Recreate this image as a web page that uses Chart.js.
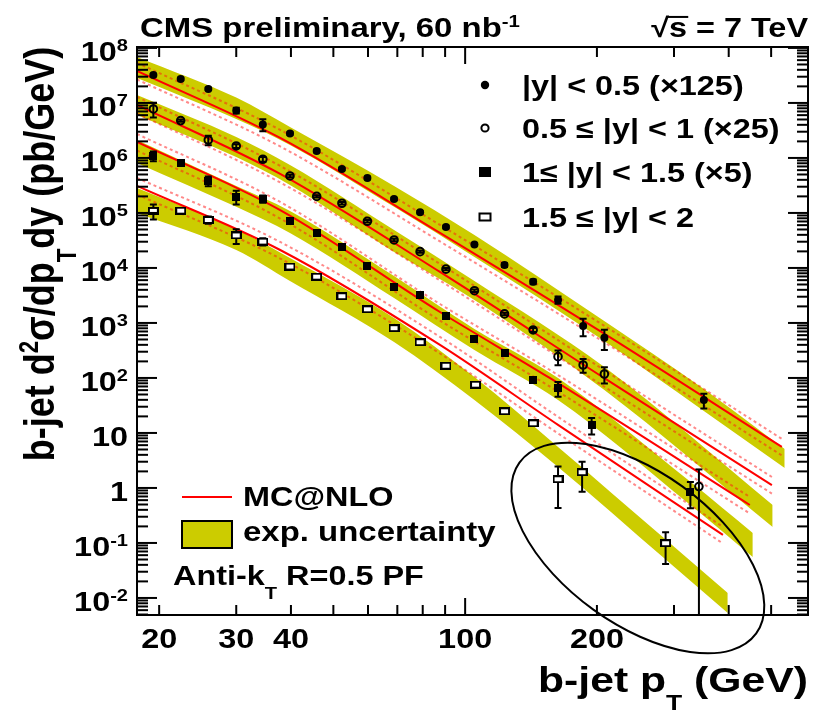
<!DOCTYPE html>
<html><head><meta charset="utf-8">
<script src="https://cdn.jsdelivr.net/npm/chart.js@4.4.1/dist/chart.umd.min.js"></script>
<style>html,body{margin:0;padding:0;background:#fff;}#wrap{width:814px;height:714px;}</style>
</head><body><div id="wrap"><canvas id="c" width="814" height="714"></canvas></div>
<script>
// ---------------- data ----------------
const ptS1  = [19.4,22.4,25.9,30.0,34.5,39.8,45.8,52.3,59.8,68.8,78.9,90.4,105,123,143,163,186,208,351];
const valS1 = [3.23e7,2.73e7,1.80e7,7.31e6,4.06e6,2.79e6,1.34e6,6.31e5,4.33e5,1.80e5,1.03e5,5.56e4,2.68e4,1.13e4,5.63e3,2.62e3,882,538,39.8];
const errS1 = [0.05,0.05,0.05,0.12,0.25,0.05,0.05,0.05,0.05,0.05,0.05,0.05,0.05,0.08,0.1,0.15,0.35,0.4,0.3];

const ptS2  = [19.4,22.4,25.9,30.0,34.5,39.8,45.8,52.3,59.8,68.8,78.9,90.4,105,123,143,163,186,208,342];
const valS2 = [7.78e6,4.77e6,2.12e6,1.65e6,9.46e5,4.71e5,2.0e5,1.50e5,7.06e4,3.23e4,1.98e4,9.51e3,3.86e3,1.46e3,746,244,172,118,1.06];
const errS2 = [0.3,0.05,0.2,0.08,0.1,0.05,0.05,0.05,0.05,0.05,0.05,0.05,0.05,0.05,0.08,0.3,0.28,0.33,1.05];

const ptS3  = [19.4,22.4,25.9,30.0,34.5,39.8,45.8,52.3,59.8,68.8,78.9,90.4,105,123,143,163,194.5,327];
const valS3 = [1.09e6,8.02e5,3.82e5,1.98e5,1.80e5,7.21e4,4.33e4,2.44e4,1.10e4,4.57e3,3.16e3,1.34e3,507,281,90.8,65,14.0,0.857];
const errS3 = [0.2,0.05,0.2,0.28,0.15,0.05,0.05,0.05,0.05,0.05,0.05,0.05,0.05,0.05,0.08,0.3,0.33,0.5];

const ptS4  = [19.4,22.4,25.9,30.0,34.5,39.8,45.8,52.3,59.8,68.8,78.9,90.4,105.6,123,143,163,185,287];
const valS4 = [1.09e5,1.10e5,7.46e4,3.90e4,3.01e4,1.06e4,6.95e3,3.06e3,1.77e3,804,446,167,75.5,24.8,15.0,1.44,1.93,0.0988];
const errS4 = [0.3,0.08,0.15,0.3,0.15,0.05,0.05,0.05,0.05,0.05,0.05,0.05,0.05,0.05,0.05,0.7,0.56,0.58];

// experimental uncertainty bands
const band1Pt = [17.8,30,39.8,68.8,105,203,351,537];
const band1Lo = [2.85e7,5.1e6,1.72e6,1.29e5,1.58e4,534,25.1,2.31];
const band1Hi = [6.86e7,1.25e7,3.66e6,3.10e5,3.98e4,1.23e3,63.1,5.12];
const band2Pt = [17.8,30,39.8,68.8,105,208,504];
const band2Lo = [6.05e6,1.04e6,3.23e5,1.95e4,2.62e3,60.5,0.195];
const band2Hi = [1.40e7,2.41e6,7.46e5,4.91e4,5.8e3,158,0.491];
const band3Pt = [17.8,30,39.8,68.8,105,163,327,454];
const band3Lo = [8.11e5,1.29e5,4.33e4,2.85e3,323,39.8,0.491,0.0556];
const band3Hi = [2.12e6,3.10e5,1.09e5,7.15e3,778,100,1.29,0.152];
const band4Pt = [17.8,30,39.8,68.8,105,163,288,398];
const band4Lo = [1.0e5,2.12e4,5.8e3,451,39.8,2.41,0.049,0.00533];
const band4Hi = [2.85e5,5.12e4,1.52e4,1.23e3,104,5.57,0.113,0.0123];

// MC@NLO central curves and relative theory uncertainty
const mcPt1 = [17.8,37.8,87.6,203,529];  const mcVal1 = [3.82e7,2.31e6,4.33e4,715,5.57];
const mcPt2 = [17.8,37.8,87.6,211,502];  const mcVal2 = [9.2e6,5.12e5,8.45e3,92,1.13];
const mcPt3 = [17.8,37.8,87.6,156,447];  const mcVal3 = [1.95e6,1.13e5,1.58e3,100,0.49];
const mcPt4 = [17.8,37.8,87.6,163,388];  const mcVal4 = [3.10e5,2.12e4,398,14,0.14];
const mcUncUp = 0.4, mcUncDown = 0.3;

const seriesLabels = ['|y| < 0.5 (×125)','0.5 ≤ |y| < 1 (×25)','1≤ |y| < 1.5 (×5)','1.5 ≤ |y| < 2'];
const xTickLabels = [20,30,40,100,200];
const yExponents = [-2,-1,0,1,2,3,4,5,6,7,8];
const xMin = 17.8, xMax = 607, yMin = 0.0049, yMax = 1.04e8;
// ellipse annotation centre (data coords)
const ellipseCenter = {x: 248, y: 0.081};

// ---------------- styling helpers ----------------
const FONT = '"Liberation Sans", Arial, Helvetica, sans-serif';
const YEL = '#cccc00';
function setFont(ctx, size, weight){ ctx.font = (weight||'bold') + ' ' + size + 'px ' + FONT; }
function partsWidth(ctx, parts, size, weight){
  let w = 0;
  for (const p of parts){ setFont(ctx, p.k ? size*0.62 : size, weight); w += ctx.measureText(p.t).width; }
  return w;
}
function drawParts(ctx, parts, x, y, o){
  const size = o.size, weight = o.weight || 'bold';
  ctx.save(); ctx.translate(x, y); if (o.rot) ctx.rotate(o.rot); ctx.scale(o.sx||1, o.sy||1);
  const w = partsWidth(ctx, parts, size, weight);
  let cx = o.align === 'right' ? -w : o.align === 'center' ? -w/2 : 0;
  ctx.textBaseline = 'alphabetic'; ctx.textAlign = 'left'; ctx.fillStyle = o.color || '#000';
  for (const p of parts){
    const fs = p.k ? size*0.62 : size; setFont(ctx, fs, weight);
    const dy = p.k === 'sup' ? -size*0.36 : p.k === 'sub' ? size*0.5 : 0;
    ctx.fillText(p.t, cx, dy);
    const pw = ctx.measureText(p.t).width;
    if (p.over){ ctx.fillRect(cx-1, -size*0.78, pw+2, 2); }
    cx += pw;
  }
  ctx.restore();
}
function rectMarker(w, h, fill, stroke, lw){
  const c = document.createElement('canvas'); c.width = w; c.height = h;
  const g = c.getContext('2d');
  if (stroke){ g.fillStyle = stroke; g.fillRect(0,0,w,h); g.fillStyle = fill; g.fillRect(lw,lw,w-2*lw,h-2*lw); }
  else { g.fillStyle = fill; g.fillRect(0,0,w,h); }
  return c;
}
const mFilledSq = rectMarker(8, 8, '#000');
const mOpenSq = rectMarker(11, 8, '#fff', '#000', 2);

const series = [
  {pt: ptS1, v: valS1, e: errS1, style: 'circle', r: 4, bg: '#000', bd: '#000', bw: 0},
  {pt: ptS2, v: valS2, e: errS2, style: 'circle', r: 3.8, bg: 'rgba(0,0,0,0)', bd: '#000', bw: 2},
  {pt: ptS3, v: valS3, e: errS3, style: mFilledSq, r: 4, bg: '#000', bd: '#000', bw: 0},
  {pt: ptS4, v: valS4, e: errS4, style: mOpenSq, r: 5, bg: '#fff', bd: '#000', bw: 0}
];
const bands = [[band1Pt,band1Lo,band1Hi],[band2Pt,band2Lo,band2Hi],[band3Pt,band3Lo,band3Hi],[band4Pt,band4Lo,band4Hi]];
const mcs = [[mcPt1,mcVal1],[mcPt2,mcVal2],[mcPt3,mcVal3],[mcPt4,mcVal4]];

const xy = (xs, ys, f) => xs.map((x,i) => ({x: x, y: ys[i]*(f||1)}));
const datasets = [];
series.forEach(s => datasets.push({
  data: xy(s.pt, s.v), showLine: false, order: 1,
  pointStyle: s.style, pointRadius: s.r, pointBackgroundColor: s.bg, pointBorderColor: s.bd, pointBorderWidth: s.bw
}));
const DASH = 'rgba(255,20,20,0.5)';
mcs.forEach(m => {
  datasets.push({data: xy(m[0], m[1], 1+mcUncUp), borderColor: DASH, borderWidth: 2, borderDash: [3,3], pointRadius: 0, cubicInterpolationMode: 'monotone', fill: false, order: 2});
  datasets.push({data: xy(m[0], m[1], 1-mcUncDown), borderColor: DASH, borderWidth: 2, borderDash: [3,3], pointRadius: 0, cubicInterpolationMode: 'monotone', fill: false, order: 2});
  datasets.push({data: xy(m[0], m[1]), borderColor: '#ff0000', borderWidth: 2, pointRadius: 0, cubicInterpolationMode: 'monotone', fill: false, order: 2});
});
bands.forEach(b => {
  const loIdx = datasets.length;
  datasets.push({data: xy(b[0], b[1]), borderWidth: 0, pointRadius: 0, cubicInterpolationMode: 'monotone', fill: false, order: 3});
  datasets.push({data: xy(b[0], b[2]), borderWidth: 0, pointRadius: 0, cubicInterpolationMode: 'monotone', fill: loIdx, backgroundColor: YEL, order: 3});
});

const decor = {
  id: 'decor',
  beforeDatasetDraw(chart, args){
    if (args.index !== series.length - 1) return;
    const ctx = chart.ctx, xs = chart.scales.x, ys = chart.scales.y, a = chart.chartArea;
    ctx.save(); ctx.strokeStyle = '#000'; ctx.lineWidth = 2;
    series.forEach(s => s.pt.forEach((x, i) => {
      const v = s.v[i], e = s.e[i]*v;
      const px = xs.getPixelForValue(x);
      const pTop = ys.getPixelForValue(v + e);
      const lowV = v - e; let pBot = lowV > yMin ? ys.getPixelForValue(lowV) : a.bottom;
      ctx.beginPath(); ctx.moveTo(px, pTop); ctx.lineTo(px, pBot); ctx.stroke();
      ctx.beginPath(); ctx.moveTo(px-3.5, pTop); ctx.lineTo(px+3.5, pTop);
      if (lowV > yMin){ ctx.moveTo(px-3.5, pBot); ctx.lineTo(px+3.5, pBot); }
      ctx.stroke();
    }));
    ctx.restore();
  },
  afterDraw(chart){
    const ctx = chart.ctx, xs = chart.scales.x, ys = chart.scales.y, a = chart.chartArea;
    ctx.save();
    ctx.strokeStyle = '#000'; ctx.lineWidth = 2; ctx.lineCap = 'butt';
    ctx.strokeRect(a.left, a.top, a.right - a.left, a.bottom - a.top);
    const line = (x1,y1,x2,y2) => { ctx.beginPath(); ctx.moveTo(x1,y1); ctx.lineTo(x2,y2); ctx.stroke(); };
    for (let d = 10; d <= 100; d *= 10) for (let m = 1; m <= 9; m++){
      const v = m*d; if (v < xMin || v > 560) continue;
      const px = xs.getPixelForValue(v); const len = (v === 100) ? 17 : 10;
      line(px, a.bottom, px, a.bottom - len); line(px, a.top, px, a.top + len);
    }
    for (let n = -3; n <= 8; n++) for (let m = 1; m <= 9; m++){
      const v = m*Math.pow(10, n); if (v < yMin || v > yMax) continue;
      const py = ys.getPixelForValue(v); const len = m === 1 ? 20 : 11;
      line(a.left, py, a.left + len, py); line(a.right, py, a.right - len, py);
    }
    yExponents.forEach(n => {
      const py = ys.getPixelForValue(Math.pow(10, n));
      const parts = n === 0 ? [{t:'1'}] : n === 1 ? [{t:'10'}] : [{t:'10'},{t:String(n),k:'sup'}];
      drawParts(ctx, parts, 128, py + 13, {size: 27, sx: 1.2, align: 'right'});
    });
    xTickLabels.forEach(v => {
      drawParts(ctx, [{t:String(v)}], xs.getPixelForValue(v), 648, {size: 27, sx: 1.2, align: 'center'});
    });
    drawParts(ctx, [{t:'b-jet d'},{t:'2',k:'sup'},{t:'σ/dp'},{t:'T',k:'sub'},{t:'dy (pb/GeV)'}], 54, 254,
      {size: 36, rot: -Math.PI/2, sy: 1.2, align: 'center'});
    drawParts(ctx, [{t:'b-jet p'},{t:'T',k:'sub'},{t:' (GeV)'}], 808, 692, {size: 35, sx: 1.22, align: 'right'});
    drawParts(ctx, [{t:'CMS preliminary, 60 nb'},{t:'-1',k:'sup'}], 140, 37, {size: 27, sx: 1.22});
    drawParts(ctx, [{t:'√'},{t:'s',over:true},{t:' = 7 TeV'}], 808, 37, {size: 27, sx: 1.2, align: 'right'});
    const lx = 485, tx = 522, rows = [85, 128, 172, 217];
    ctx.fillStyle = '#000';
    ctx.beginPath(); ctx.arc(lx, rows[0], 4.2, 0, 2*Math.PI); ctx.fill();
    ctx.beginPath(); ctx.arc(lx, rows[1], 3.6, 0, 2*Math.PI); ctx.lineWidth = 2; ctx.stroke();
    ctx.fillRect(lx-6, rows[2]-5, 12, 10);
    ctx.strokeRect(lx-5.5, rows[3]-3.5, 11, 7);
    seriesLabels.forEach((t, i) => drawParts(ctx, [{t: t}], tx, rows[i] + 10, {size: 27, sx: 1.2}));
    ctx.strokeStyle = '#ff0000'; ctx.lineWidth = 2; line(182, 497, 232, 497);
    ctx.fillStyle = YEL; ctx.fillRect(182, 521, 50, 27);
    ctx.strokeStyle = '#000'; ctx.lineWidth = 2; ctx.strokeRect(182, 521, 50, 27);
    drawParts(ctx, [{t:'MC@NLO'}], 243, 506, {size: 27, sx: 1.2});
    drawParts(ctx, [{t:'exp. uncertainty'}], 243, 541, {size: 27, sx: 1.22});
    drawParts(ctx, [{t:'Anti-k'},{t:'T',k:'sub'},{t:' R=0.5 PF'}], 173, 585, {size: 27, sx: 1.2});
    const ex = xs.getPixelForValue(ellipseCenter.x), ey = ys.getPixelForValue(ellipseCenter.y);
    ctx.strokeStyle = '#000'; ctx.lineWidth = 2;
    ctx.beginPath(); ctx.ellipse(ex, ey, 146, 76, 0.625, 0, 2*Math.PI); ctx.stroke();
    ctx.restore();
  }
};

new Chart(document.getElementById('c'), {
  type: 'line',
  data: {datasets: datasets},
  options: {
    responsive: false, animation: false, events: [], devicePixelRatio: 1,
    layout: {padding: {top: 47, right: 6, left: 0, bottom: 0}},
    plugins: {legend: {display: false}, tooltip: {enabled: false}},
    scales: {
      x: {type: 'logarithmic', min: xMin, max: xMax, ticks: {display: false}, grid: {display: false}, border: {display: false},
          afterFit: s => { s.height = 99; }},
      y: {type: 'logarithmic', min: yMin, max: yMax, ticks: {display: false}, grid: {display: false}, border: {display: false},
          afterFit: s => { s.width = 137; }}
    }
  },
  plugins: [decor]
});
</script></body></html>
